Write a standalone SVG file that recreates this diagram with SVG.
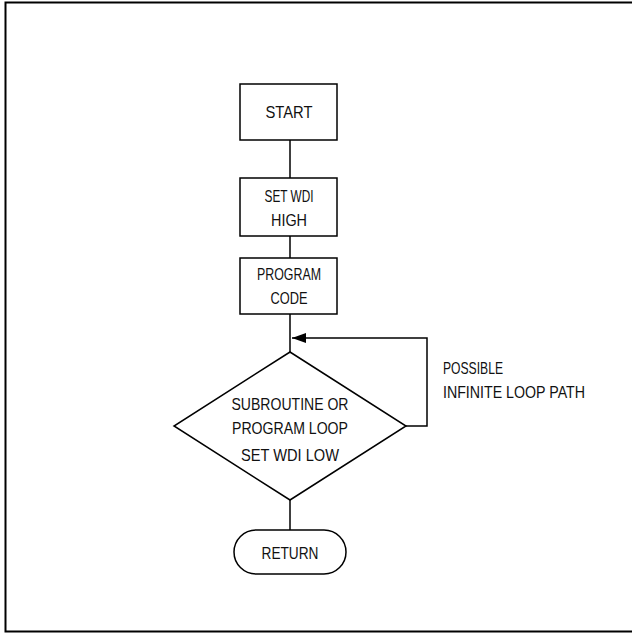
<svg xmlns="http://www.w3.org/2000/svg" width="632" height="633" viewBox="0 0 632 633">
<style>
.n{fill:#fff;stroke:#000;stroke-width:1.5}
.c{fill:none;stroke:#000;stroke-width:1.5}
text{font-family:"Liberation Sans",Arial,sans-serif;font-size:16.5px;fill:#111}
.m{text-anchor:middle}
</style>
<defs>
<marker id="ah" markerWidth="14" markerHeight="10" refX="14" refY="5" orient="auto" markerUnits="userSpaceOnUse">
<path d="M0,0 L14,5 L0,10 Z" fill="#000"/>
</marker>
</defs>
<rect width="632" height="633" fill="#fff"/>
<path d="M632,2.5 H5.5 V631.5 H632" fill="none" stroke="#000" stroke-width="2"/>
<g id="connectors">
<line class="c" x1="290" y1="140" x2="290" y2="178"/>
<line class="c" x1="290" y1="236" x2="290" y2="258"/>
<line class="c" x1="290" y1="314" x2="290" y2="352"/>
<line class="c" x1="290" y1="500" x2="290" y2="530"/>
<polyline class="c" points="406,426 427,426 427,338 292,338" marker-end="url(#ah)"/>
</g>
<g id="start">
<rect class="n" x="240" y="84" width="97" height="56"/>
<text class="m" x="289" y="118" textLength="47" lengthAdjust="spacingAndGlyphs">START</text>
</g>
<g id="setHigh">
<rect class="n" x="240" y="178" width="97" height="58"/>
<text class="m" x="289" y="202" textLength="49" lengthAdjust="spacingAndGlyphs">SET WDI</text>
<text class="m" x="289" y="226" textLength="36" lengthAdjust="spacingAndGlyphs">HIGH</text>
</g>
<g id="program">
<rect class="n" x="240" y="258" width="97" height="56"/>
<text class="m" x="289" y="280" textLength="64" lengthAdjust="spacingAndGlyphs">PROGRAM</text>
<text class="m" x="289" y="304" textLength="37" lengthAdjust="spacingAndGlyphs">CODE</text>
</g>
<g id="loop">
<polygon class="n" points="290,352 406,426 290,500 174,426"/>
<text class="m" x="290" y="410" textLength="117" lengthAdjust="spacingAndGlyphs">SUBROUTINE OR</text>
<text class="m" x="290" y="434" textLength="116" lengthAdjust="spacingAndGlyphs">PROGRAM LOOP</text>
<text class="m" x="290" y="461" textLength="98" lengthAdjust="spacingAndGlyphs">SET WDI LOW</text>
</g>
<g id="return">
<rect class="n" x="234" y="530" width="112" height="44" rx="22" ry="22"/>
<text class="m" x="290" y="559" textLength="57" lengthAdjust="spacingAndGlyphs">RETURN</text>
</g>
<g id="note">
<text x="443" y="374" textLength="60" lengthAdjust="spacingAndGlyphs">POSSIBLE</text>
<text x="443" y="398" textLength="142" lengthAdjust="spacingAndGlyphs">INFINITE LOOP PATH</text>
</g>
</svg>
